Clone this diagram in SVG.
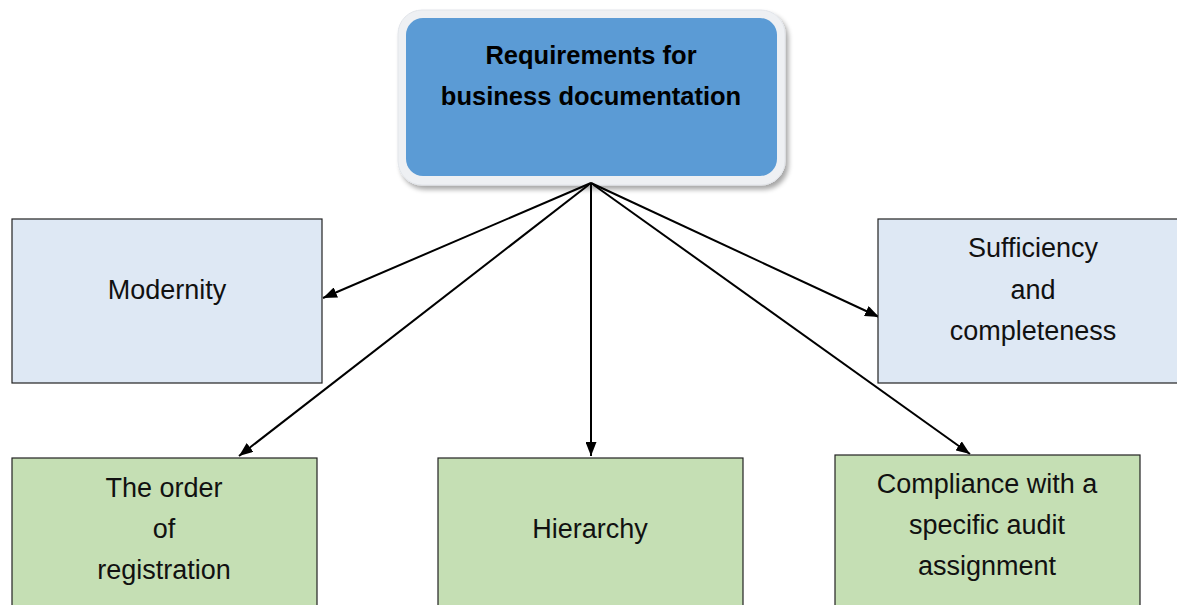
<svg xmlns="http://www.w3.org/2000/svg" width="1177" height="605" viewBox="0 0 1177 605">
  <style>
    .lbl { font-family: "Liberation Sans", Arial, sans-serif; font-size: 27px; fill: #111; text-anchor: middle; }
    .title { font-family: "Liberation Sans", Arial, sans-serif; font-size: 25.5px; font-weight: bold; fill: #000; text-anchor: middle; }
    .blue { fill: #DEE8F4; stroke: #222; stroke-width: 1.2; }
    .green { fill: #C5DFB4; stroke: #222; stroke-width: 1.2; }
    .conn { stroke: #000; stroke-width: 2; fill: none; marker-end: url(#arrow); }
  </style>
  <defs>
    <marker id="arrow" viewBox="0 0 14 11" refX="14" refY="5.5" markerWidth="14" markerHeight="11" markerUnits="userSpaceOnUse" orient="auto">
      <path d="M0,0 L14,5.5 L0,11 Z" fill="#000"/>
    </marker>
    <filter id="shadow" x="-10%" y="-10%" width="125%" height="130%">
      <feGaussianBlur in="SourceAlpha" stdDeviation="2.5"/>
      <feOffset dx="3" dy="4" result="b"/>
      <feComponentTransfer><feFuncA type="linear" slope="0.35"/></feComponentTransfer>
      <feMerge><feMergeNode/><feMergeNode in="SourceGraphic"/></feMerge>
    </filter>
  </defs>

  <rect width="1177" height="605" fill="#fff"/>

  <!-- root node -->
  <g id="root">
    <rect x="398" y="10" width="387" height="175" rx="24" fill="#EEF0F3" stroke="#E2E5EA" stroke-width="1" filter="url(#shadow)"/>
    <rect x="406" y="18" width="371" height="158" rx="17" fill="#5B9BD5"/>
    <text class="title" x="591" y="64">Requirements for</text>
    <text class="title" x="591" y="105">business documentation</text>
  </g>

  <!-- connectors -->
  <g id="connectors">
    <line class="conn" x1="591" y1="183" x2="323" y2="298"/>
    <line class="conn" x1="591" y1="183" x2="239" y2="456"/>
    <line class="conn" x1="591" y1="183" x2="591" y2="456"/>
    <line class="conn" x1="591" y1="183" x2="879" y2="317"/>
    <line class="conn" x1="591" y1="183" x2="970" y2="454"/>
  </g>

  <g id="modernity">
    <rect class="blue" x="12" y="219" width="310" height="164"/>
    <text class="lbl" x="167" y="299">Modernity</text>
  </g>

  <g id="sufficiency">
    <rect class="blue" x="878" y="219" width="310" height="164"/>
    <text class="lbl" x="1033" y="257">Sufficiency</text>
    <text class="lbl" x="1033" y="299">and</text>
    <text class="lbl" x="1033" y="340">completeness</text>
  </g>

  <g id="registration">
    <rect class="green" x="12" y="458" width="305" height="160"/>
    <text class="lbl" x="164" y="497">The order</text>
    <text class="lbl" x="164" y="538">of</text>
    <text class="lbl" x="164" y="579">registration</text>
  </g>

  <g id="hierarchy">
    <rect class="green" x="438" y="458" width="305" height="160"/>
    <text class="lbl" x="590" y="538">Hierarchy</text>
  </g>

  <g id="compliance">
    <rect class="green" x="835" y="455" width="305" height="160"/>
    <text class="lbl" x="987" y="493">Compliance with a</text>
    <text class="lbl" x="987" y="534">specific audit</text>
    <text class="lbl" x="987" y="575">assignment</text>
  </g>
</svg>
